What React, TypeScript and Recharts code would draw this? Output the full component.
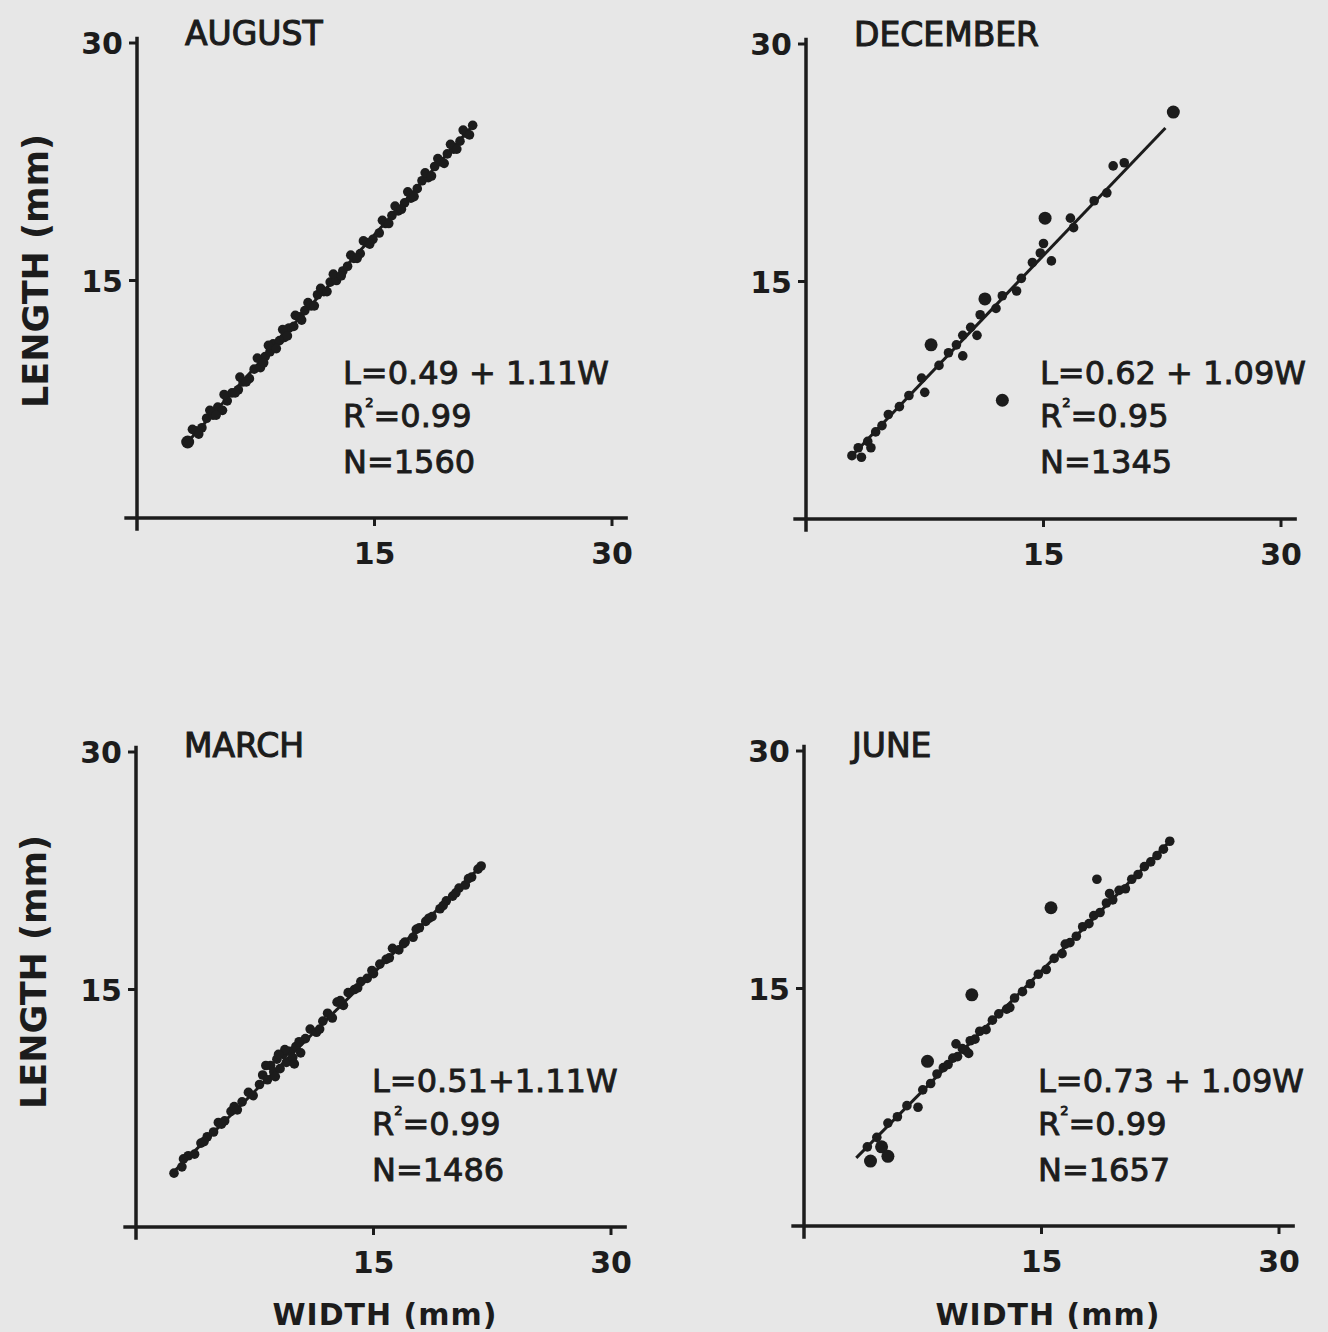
import React from "react"
import { ScatterChart, Scatter, XAxis, YAxis, ReferenceLine } from "recharts"

const INK = "#1c1c1c"
const BG = "#e7e7e7"
const FONT = "'DejaVu Sans', Verdana, sans-serif"
const SIZE = 475
const XH = 40

// [width, length] pairs (mm)
const augustPoints: [number, number][] = [
  [3.7, 5.5], [4.1, 5.7], [4.4, 6.3], [4.8, 6.5], [5.1, 7.0], [5.4, 6.8], [5.7, 7.4],
  [6.0, 7.9], [6.4, 8.1], [6.7, 8.6], [7.1, 8.8], [7.4, 9.4], [7.8, 9.5], [8.1, 10.2],
  [8.4, 10.5], [8.6, 11.0], [9.0, 11.2], [9.3, 11.4], [9.6, 12.0], [9.9, 12.1], [10.3, 12.7],
  [10.6, 13.1], [11.0, 13.4], [11.4, 14.1], [11.8, 14.3], [12.2, 14.9], [12.6, 15.0],
  [13.0, 15.6], [13.3, 15.9], [13.7, 16.4], [14.1, 16.7], [14.5, 17.4], [14.9, 17.6],
  [15.3, 18.0], [15.7, 18.6], [16.1, 19.1], [16.5, 19.4], [16.9, 19.9], [17.3, 20.2],
  [17.7, 20.8], [18.0, 21.3], [18.4, 21.5], [18.8, 22.2], [19.2, 22.5], [19.6, 23.0],
  [20.0, 23.3], [20.4, 23.8], [20.8, 24.3], [21.2, 24.8],
  [3.5, 5.6], [3.9, 5.3], [4.6, 6.8], [5.0, 6.5], [5.5, 7.8], [6.2, 7.9], [6.5, 8.9],
  [6.9, 8.6], [7.6, 10.1], [8.0, 9.8], [8.3, 10.9], [8.8, 10.7], [9.2, 11.9], [9.5, 11.5],
  [10.0, 12.8], [10.4, 12.5], [10.8, 13.6], [11.2, 13.4], [11.6, 14.5], [12.0, 14.3],
  [12.4, 15.4], [12.9, 15.3], [13.5, 16.6], [13.9, 16.4], [14.3, 17.5], [14.7, 17.3],
  [15.5, 18.8], [15.9, 18.6], [16.3, 19.7], [16.7, 19.5], [17.1, 20.6], [17.5, 20.3],
  [18.2, 21.8], [18.6, 21.6], [19.0, 22.7], [19.4, 22.4], [19.8, 23.6], [20.2, 23.3],
  [20.6, 24.5], [21.0, 24.2],
]
const augustBig: [number, number][] = [[3.2, 4.8]]
const augustFit: [number, number][] = [[3.2, 4.8], [21.4, 25.0]]

const decemberPoints: [number, number][] = [
  [2.9, 4.0], [3.3, 4.5], [3.5, 3.9], [3.9, 4.9], [4.1, 4.5], [4.4, 5.5], [4.8, 5.9],
  [5.2, 6.6], [5.9, 7.1], [6.5, 7.8], [7.5, 8.0], [7.3, 8.9], [8.4, 9.7], [9.0, 10.5],
  [9.9, 10.3], [9.5, 11.0], [9.9, 11.6], [10.8, 11.6], [10.4, 12.1], [11.0, 12.9],
  [12.0, 13.3], [12.4, 14.1], [13.3, 14.4], [13.6, 15.2], [14.3, 16.2], [14.8, 16.8],
  [15.5, 16.3], [15.0, 17.4], [16.7, 19.0], [16.9, 18.4], [18.2, 20.1], [19.0, 20.6],
  [19.4, 22.3], [20.1, 22.5],
]
const decemberBig: [number, number][] = [
  [7.9, 11.0], [11.3, 13.9], [12.4, 7.5], [15.1, 19.0], [23.2, 25.7],
]
const decemberFit: [number, number][] = [[2.9, 4.0], [22.7, 24.7]]

const marchPoints: [number, number][] = [
  [2.4, 3.4], [2.9, 3.8], [3.3, 4.5], [3.7, 4.6], [4.1, 5.3], [4.5, 5.7], [4.9, 6.0],
  [5.2, 6.6], [5.6, 6.7], [6.0, 7.3], [6.4, 7.4], [6.7, 7.9], [7.1, 8.5], [7.4, 8.3],
  [7.8, 9.0], [8.0, 9.6], [8.3, 9.3], [8.5, 10.2], [8.7, 9.8], [8.9, 10.6], [9.1, 10.0],
  [9.3, 10.9], [9.5, 10.4], [9.7, 11.1], [9.9, 10.7], [10.1, 11.4], [10.4, 11.0],
  [10.7, 11.9], [11.0, 12.5], [11.4, 12.3], [11.8, 13.0], [12.1, 13.5], [12.4, 13.2],
  [12.7, 14.2], [13.1, 14.0], [13.4, 14.8], [13.8, 15.0], [14.2, 15.5], [14.6, 15.7],
  [15.0, 16.0], [15.4, 16.6], [15.8, 16.9], [16.2, 17.6], [16.6, 17.5], [17.0, 18.0],
  [17.5, 18.3], [17.9, 18.9], [18.3, 19.3], [18.7, 19.6], [19.2, 20.1], [19.6, 20.6],
  [20.0, 20.9], [20.4, 21.4], [20.8, 21.6], [21.2, 22.1], [21.6, 22.6],
  [8.2, 10.2], [8.8, 9.5], [9.4, 11.2], [10.0, 10.3], [9.0, 10.9], [10.3, 11.7],
  [3.0, 4.3], [4.3, 5.4], [5.4, 6.5], [6.2, 7.6], [11.6, 12.5], [12.9, 14.3], [14.0, 15.1],
  [14.9, 16.2], [16.0, 17.0], [16.9, 17.9], [17.7, 18.8], [18.5, 19.5], [19.4, 20.3],
  [20.2, 21.1], [21.0, 22.0], [21.8, 22.8],
]
const marchBig: [number, number][] = []
const marchFit: [number, number][] = [[2.3, 3.4], [21.9, 22.9]]

const junePoints: [number, number][] = [
  [4.0, 5.0], [4.6, 5.6], [5.3, 6.5], [5.9, 6.9], [6.5, 7.6], [7.2, 7.5], [7.5, 8.6],
  [8.0, 9.0], [8.4, 9.6], [8.8, 10.0], [9.1, 10.2], [9.4, 10.6], [9.7, 10.7], [10.0, 11.2],
  [10.2, 11.1], [10.5, 11.7], [10.8, 11.8], [11.1, 12.3], [11.5, 12.4], [11.9, 13.0],
  [12.3, 13.4], [12.8, 13.7], [13.3, 14.4], [13.8, 14.8], [14.3, 15.3], [14.8, 15.9],
  [15.3, 16.2], [15.8, 16.9], [16.3, 17.2], [16.8, 17.9], [17.2, 18.3], [17.6, 18.9],
  [18.0, 19.1], [18.3, 19.6], [18.7, 19.8], [19.1, 20.4], [19.5, 20.6], [19.9, 21.2],
  [20.3, 21.3], [20.7, 21.9], [21.1, 22.2], [21.5, 22.7], [21.9, 23.0], [22.3, 23.4],
  [22.7, 23.8], [23.1, 24.3], [18.5, 21.9], [9.6, 11.5], [10.4, 10.9], [13.0, 13.8],
  [16.5, 17.8], [19.3, 21.0],
]
const juneBig: [number, number][] = [
  [4.2, 4.1], [4.9, 5.0], [5.3, 4.4], [7.8, 10.4], [10.6, 14.6], [15.6, 20.1],
]
const juneFit: [number, number][] = [[3.3, 4.3], [23.3, 24.5]]

const axisTicks = [15, 30]

const toPts = (arr: [number, number][]) => arr.map(([w, l]) => ({ w, l }))

const XTick = (props: any) => (
  <text x={props.x} y={props.y + 38} textAnchor="middle" fontFamily={FONT} fontSize={30}
    fontWeight="bold" fill={INK}>{props.payload.value}</text>
)
const YTick = (props: any) => (
  <text x={props.x - 6} y={props.y + 11} textAnchor="end" fontFamily={FONT} fontSize={30}
    fontWeight="bold" fill={INK}>{props.payload.value}</text>
)
const SmallDot = (props: any) => <circle cx={props.cx} cy={props.cy} r={4.8} fill={INK} />
const BigDot = (props: any) => <circle cx={props.cx} cy={props.cy} r={6.5} fill={INK} />
const NoDot = () => <g />

interface PanelProps {
  left: number
  top: number
  width: number
  height: number
  plotLeft: number
  plotTop: number
  title: string
  titleY: number
  eq: string
  r2: string
  n: string
  eqX: number
  eqY: number
  points: [number, number][]
  big: [number, number][]
  fit: [number, number][]
  yLabel?: [number, number]
  xLabel?: [number, number]
}

function Panel(p: PanelProps) {
  const margin = {
    top: p.plotTop,
    right: p.width - p.plotLeft - SIZE,
    bottom: p.height - p.plotTop - SIZE - XH,
    left: 0,
  }
  const txt = { fontFamily: FONT, fill: INK, stroke: INK, strokeWidth: 0.9 }
  return (
    <div style={{ position: "absolute", left: p.left, top: p.top }}>
      <ScatterChart width={p.width} height={p.height} margin={margin}>
        <XAxis type="number" dataKey="w" domain={[0, 30]} ticks={axisTicks} axisLine={false}
          stroke={INK} tickLine={{ stroke: INK, strokeWidth: 3 }} tickSize={8} tickMargin={0}
          tick={XTick} height={XH} />
        <YAxis type="number" dataKey="l" domain={[0, 30]} ticks={axisTicks} axisLine={false}
          stroke={INK} tickLine={{ stroke: INK, strokeWidth: 3 }} tickSize={8} tickMargin={0}
          tick={YTick} width={p.plotLeft} />
        <ReferenceLine segment={[{ x: -0.8, y: 0 }, { x: 31, y: 0 }]} stroke={INK}
          strokeWidth={3.5} ifOverflow="visible" />
        <ReferenceLine segment={[{ x: 0, y: -0.8 }, { x: 0, y: 30.4 }]} stroke={INK}
          strokeWidth={3.5} ifOverflow="visible" />
        <Scatter data={toPts(p.fit)} line={{ stroke: INK, strokeWidth: 3 }} shape={NoDot}
          isAnimationActive={false} />
        <Scatter data={toPts(p.points)} shape={SmallDot} isAnimationActive={false} />
        <Scatter data={toPts(p.big)} shape={BigDot} isAnimationActive={false} />
        <text x={p.plotLeft + 48} y={p.titleY} fontSize={33} fontFamily={FONT} fill={INK}
          stroke={INK} strokeWidth={1.1}>
          {p.title}
        </text>
        <text x={p.eqX} y={p.eqY} fontSize={32} {...txt}>{p.eq}</text>
        <text x={p.eqX} y={p.eqY + 43} fontSize={32} {...txt}>
          R<tspan fontSize={13} dy={-20}>2</tspan><tspan dy={20}>={p.r2}</tspan>
        </text>
        <text x={p.eqX} y={p.eqY + 89} fontSize={32} {...txt}>N={p.n}</text>
        {p.yLabel && (
          <text x={p.yLabel[0]} y={p.yLabel[1]} textAnchor="middle" fontSize={35}
            fontWeight="bold" fontFamily={FONT} fill={INK}
            transform={`rotate(-90, ${p.yLabel[0]}, ${p.yLabel[1]})`}>
            LENGTH (mm)
          </text>
        )}
        {p.xLabel && (
          <text x={p.xLabel[0]} y={p.xLabel[1]} textAnchor="middle" fontSize={30}
            fontWeight="bold" letterSpacing={1} fontFamily={FONT} fill={INK}>
            WIDTH (mm)
          </text>
        )}
      </ScatterChart>
    </div>
  )
}

export default function App() {
  return (
    <div style={{ position: "absolute", left: 0, top: 0, width: 1328, height: 1332, background: BG, overflow: "hidden" }}>
      <Panel left={0} top={0} width={664} height={600} plotLeft={137} plotTop={43}
        title="AUGUST" titleY={45} eq="L=0.49 + 1.11W" r2="0.99" n="1560" eqX={343} eqY={384}
        points={augustPoints} big={augustBig} fit={augustFit} yLabel={[48, 271]} />
      <Panel left={664} top={0} width={664} height={600} plotLeft={142} plotTop={44}
        title="DECEMBER" titleY={46} eq="L=0.62 + 1.09W" r2="0.95" n="1345" eqX={376} eqY={384}
        points={decemberPoints} big={decemberBig} fit={decemberFit} />
      <Panel left={0} top={700} width={664} height={632} plotLeft={136} plotTop={52}
        title="MARCH" titleY={57} eq="L=0.51+1.11W" r2="0.99" n="1486" eqX={372} eqY={392}
        points={marchPoints} big={marchBig} fit={marchFit} yLabel={[46, 272]} xLabel={[385, 625]} />
      <Panel left={664} top={700} width={664} height={632} plotLeft={140} plotTop={51}
        title="JUNE" titleY={57} eq="L=0.73 + 1.09W" r2="0.99" n="1657" eqX={374} eqY={392}
        points={junePoints} big={juneBig} fit={juneFit} xLabel={[384, 625]} />
    </div>
  )
}
